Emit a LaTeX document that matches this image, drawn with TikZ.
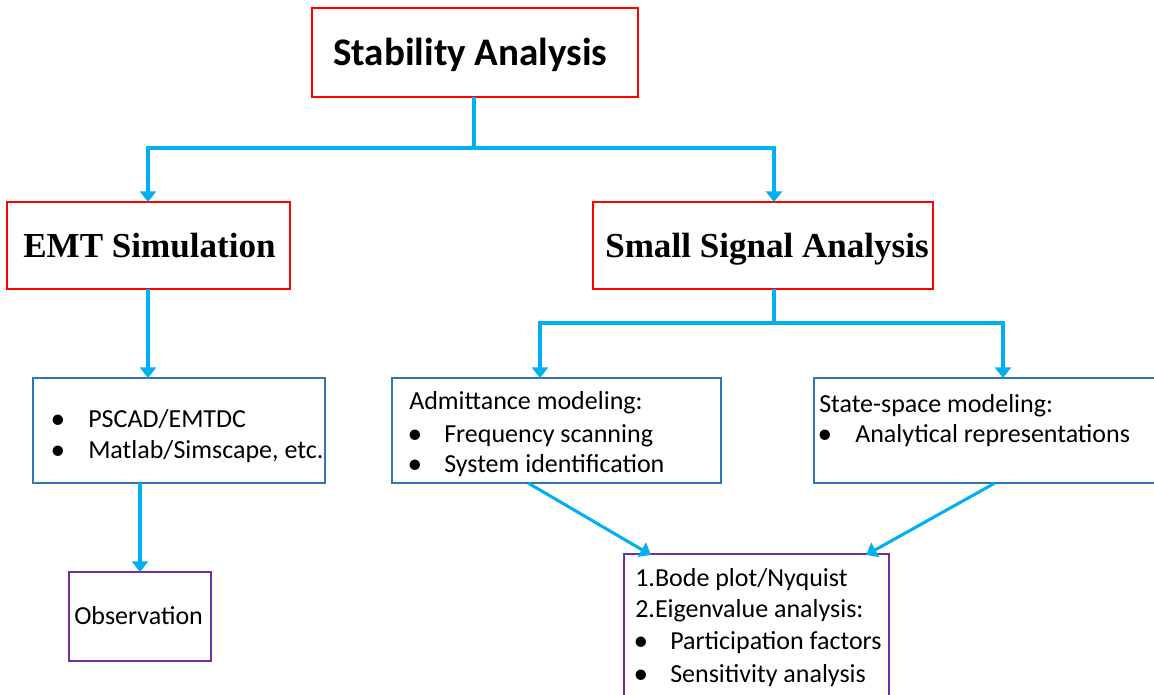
\documentclass[tikz,border=0pt]{standalone}
\usepackage{fontspec}
\usetikzlibrary{arrows.meta}
\newfontfamily\calfont{Carlito}
\newfontfamily\tnrfont{Liberation Serif}
\definecolor{cRed}{HTML}{FF0000}
\definecolor{cBlue}{HTML}{2E75B6}
\definecolor{cCyan}{HTML}{00B0F0}
\definecolor{cPurple}{HTML}{7030A0}
\newcommand\bx[6]{\node[#6, minimum width={(#4-#2)*0.75pt}, minimum height={(#5-#3)*0.75pt}] (#1) at ({(#2+#4)/2},{(#3+#5)/2}) {};}
\tikzset{
  boxbase/.style={draw, inner sep=0pt, outer sep=0pt, line width=2.2pt, fill=white},
  redbox/.style={boxbase, draw=cRed},
  bluebox/.style={boxbase, draw=cBlue},
  purplebox/.style={boxbase, draw=cPurple},
  txt/.style={anchor=base west, inner sep=0pt, font=\calfont\fontsize{19.5pt}{23pt}\selectfont},
  bul/.style={anchor=base, inner sep=0pt, yshift=-1.2pt, font=\calfont\fontsize{22pt}{24pt}\selectfont},
  conn/.style={draw=cCyan, line width=2.3pt},
  arr/.style={conn, -{Triangle[width=12pt,length=8pt]}},
}
\begin{document}
\begin{tikzpicture}[x=0.75pt,y=-0.75pt]
\useasboundingbox[fill=white] (0,0) rectangle (1154,694);
% boxes
\bx{stab}{312}{8}{638}{97}{redbox}
\bx{emt}{7}{202}{290}{289}{redbox}
\bx{ssa}{593}{202}{933}{289}{redbox}
\bx{pscad}{33}{378}{325}{483}{bluebox}
\bx{adm}{392}{378}{721}{483}{bluebox}
\bx{sts}{814}{378}{1170}{483}{bluebox}
\bx{obs}{69}{572}{211}{661}{purplebox}
\bx{bode}{624}{554}{889}{710}{purplebox}
% titles
\node[anchor=base west, inner sep=0pt, font=\calfont\bfseries\fontsize{29.3pt}{34pt}\selectfont] (tstab) at (333,65) {Stability Analysis};
\node[anchor=base west, inner sep=0pt, font=\tnrfont\bfseries\fontsize{26.3pt}{30pt}\selectfont] (temt) at (23,257) {EMT Simulation};
\node[anchor=base west, inner sep=0pt, font=\tnrfont\bfseries\fontsize{26.3pt}{30pt}\selectfont] (tssa) at (605,257) {Small Signal Analysis};
% pscad
\node[bul] (b1) at (58,427) {•};
\node[txt] (t1) at (88,427) {PSCAD/EMTDC};
\node[bul] (b2) at (58,458) {•};
\node[txt] (t2) at (88,458) {Matlab/Simscape, etc.};
% admittance
\node[txt] (t3) at (409,409) {Admittance modeling:};
\node[bul] (b3) at (415,442) {•};
\node[txt] (t4) at (444,442) {Frequency scanning};
\node[bul] (b4) at (415,472) {•};
\node[txt] (t5) at (444,472) {System identification};
% state space
\node[txt] (t6) at (819,412) {State-space modeling:};
\node[bul] (b5) at (825,442) {•};
\node[txt] (t7) at (855,442) {Analytical representations};
% observation
\node[txt] (t8) at (74,624) {Observation};
% bode
\node[txt] (t9) at (635,586) {1.Bode plot/Nyquist};
\node[txt] (t10) at (635,617) {2.Eigenvalue analysis:};
\node[bul] (b6) at (641,649) {•};
\node[txt] (t11) at (670,649) {Participation factors};
\node[bul] (b7) at (641,682) {•};
\node[txt] (t12) at (670,682) {Sensitivity analysis};
% junction coordinates
\coordinate (j1) at (474,148);
\coordinate (emtIn) at (148,202);
\coordinate (ssaIn) at (774,202);
\coordinate (emtOut) at (148,289);
\coordinate (pscadIn) at (148,378);
\coordinate (pscadOut) at (140,483);
\coordinate (obsIn) at (140,572);
\coordinate (ssaOut) at (774,289);
\coordinate (j2) at (774,323);
\coordinate (admIn) at (540,378);
\coordinate (stsIn) at (1003,378);
\coordinate (admOut) at (528,483);
\coordinate (stsOut) at (995,483);
\coordinate (bodeInL) at (651,555);
\coordinate (bodeInR) at (866,555);
% connectors
\draw[conn] (stab.south -| j1) -- (j1);
\draw[arr] (j1) -| (emtIn);
\draw[arr] (j1) -| (ssaIn);
\draw[arr] (emtOut) -- (pscadIn);
\draw[arr] (pscadOut) -- (obsIn);
\draw[conn] (ssaOut) -- (j2);
\draw[arr] (j2) -| (admIn);
\draw[arr] (j2) -| (stsIn);
\draw[arr] (admOut) -- (bodeInL);
\draw[arr] (stsOut) -- (bodeInR);
\end{tikzpicture}
\end{document}
